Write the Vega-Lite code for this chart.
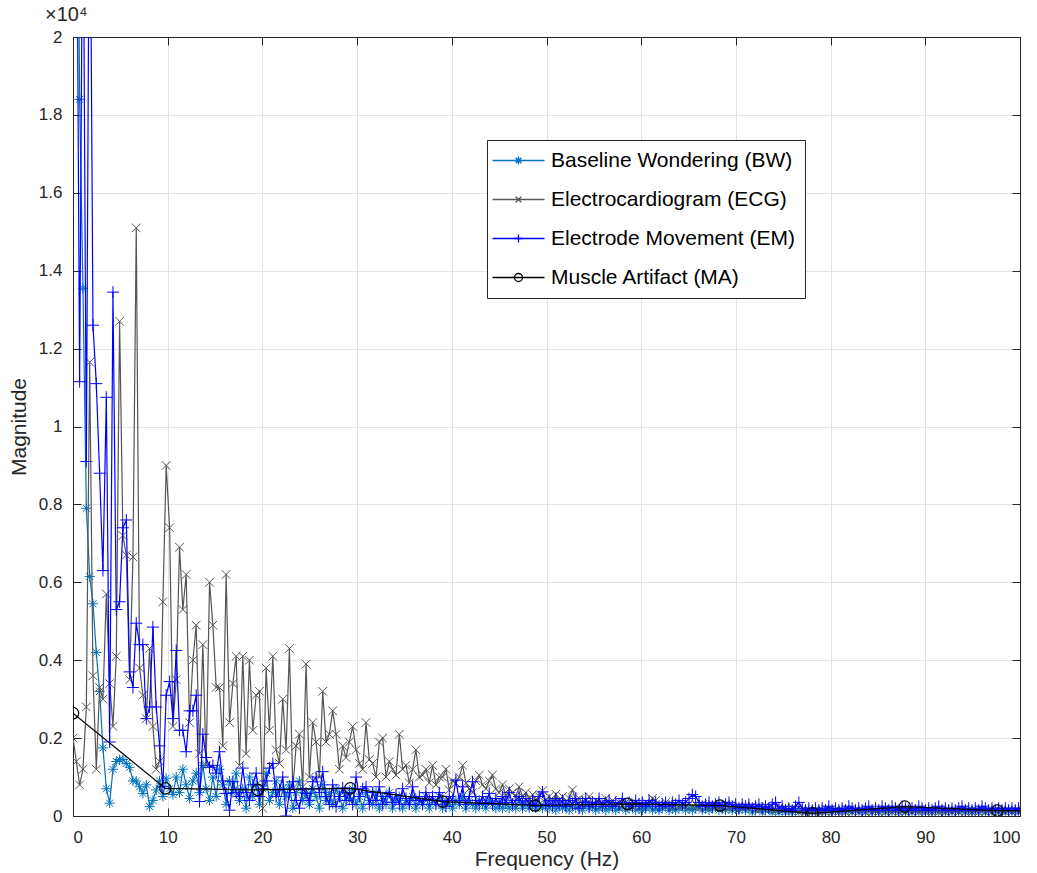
{
"$schema":"https://vega.github.io/schema/vega-lite/v6.json",
"width":947,"height":779,
"autosize":{"type":"none"},
"padding":{"left":73,"top":37,"right":17,"bottom":57},
"background":"white",
"title":{"text":"×10⁴","anchor":"start","frame":"group","dx":-28,"offset":3,"fontSize":20,"fontWeight":"normal","color":"#262626","font":"Liberation Sans"},
"config":{
 "font":"Liberation Sans",
 "view":{"stroke":null},
 "axis":{"domainColor":"#262626","domainWidth":1,"tickColor":"#262626","tickWidth":1,"tickSize":-8,"gridColor":"#e3e3e3","gridWidth":1,"labelFont":"Liberation Sans","labelFontSize":17,"labelColor":"#262626","titleFont":"Liberation Sans","titleFontSize":21,"titleFontWeight":"normal","titleColor":"#262626"}
},
"datasets":{
"w":[
{"f":0,"b":2.4,"e":0.2,"m":2.4},
{"f":0.35,"b":3.0,"e":0.14,"m":2.6},
{"f":0.7,"b":1.84,"e":0.08,"m":1.115},
{"f":1.05,"b":1.355,"e":0.12,"m":2.5},
{"f":1.41,"b":0.79,"e":0.28,"m":0.91},
{"f":1.76,"b":0.615,"e":1.165,"m":2.6},
{"f":2.11,"b":0.545,"e":0.36,"m":1.26},
{"f":2.46,"b":0.42,"e":0.12,"m":1.11},
{"f":2.81,"b":0.32,"e":0.33,"m":0.88},
{"f":3.16,"b":0.175,"e":0.3,"m":0.63},
{"f":3.52,"b":0.07,"e":0.57,"m":1.075},
{"f":3.87,"b":0.033,"e":0.34,"m":0.19},
{"f":4.22,"b":0.12,"e":0.23,"m":1.345},
{"f":4.57,"b":0.14,"e":0.41,"m":0.53},
{"f":4.92,"b":0.145,"e":1.27,"m":0.55},
{"f":5.27,"b":0.145,"e":0.72,"m":0.74},
{"f":5.63,"b":0.135,"e":0.67,"m":0.76},
{"f":5.98,"b":0.125,"e":0.35,"m":0.37},
{"f":6.33,"b":0.09,"e":0.665,"m":0.33},
{"f":6.68,"b":0.09,"e":1.51,"m":0.495},
{"f":7.03,"b":0.075,"e":0.38,"m":0.44},
{"f":7.38,"b":0.058,"e":0.31,"m":0.44},
{"f":7.74,"b":0.08,"e":0.25,"m":0.25},
{"f":8.09,"b":0.024,"e":0.43,"m":0.28},
{"f":8.44,"b":0.04,"e":0.23,"m":0.485},
{"f":8.79,"b":0.067,"e":0.12,"m":0.28},
{"f":9.14,"b":0.09,"e":0.14,"m":0.18},
{"f":9.49,"b":0.05,"e":0.55,"m":0.075},
{"f":9.84,"b":0.097,"e":0.9,"m":0.31},
{"f":10.2,"b":0.07,"e":0.74,"m":0.345},
{"f":10.55,"b":0.055,"e":0.23,"m":0.25},
{"f":10.9,"b":0.1,"e":0.35,"m":0.425},
{"f":11.25,"b":0.06,"e":0.69,"m":0.22},
{"f":11.6,"b":0.12,"e":0.53,"m":0.22},
{"f":11.95,"b":0.08,"e":0.62,"m":0.165},
{"f":12.31,"b":0.045,"e":0.24,"m":0.27},
{"f":12.66,"b":0.09,"e":0.4,"m":0.27},
{"f":13.01,"b":0.11,"e":0.49,"m":0.31},
{"f":13.36,"b":0.06,"e":0.16,"m":0.037},
{"f":13.71,"b":0.13,"e":0.44,"m":0.21},
{"f":14.06,"b":0.07,"e":0.13,"m":0.15},
{"f":14.42,"b":0.04,"e":0.6,"m":0.125},
{"f":14.77,"b":0.1,"e":0.49,"m":0.13},
{"f":15.12,"b":0.05,"e":0.33,"m":0.11},
{"f":15.47,"b":0.12,"e":0.33,"m":0.165},
{"f":15.82,"b":0.08,"e":0.18,"m":0.09},
{"f":16.17,"b":0.03,"e":0.62,"m":0.058},
{"f":16.53,"b":0.09,"e":0.24,"m":0.015},
{"f":16.88,"b":0.06,"e":0.34,"m":0.088},
{"f":17.23,"b":0.11,"e":0.41,"m":0.06},
{"f":17.58,"b":0.04,"e":0.13,"m":0.05},
{"f":17.93,"b":0.07,"e":0.41,"m":0.123},
{"f":18.28,"b":0.02,"e":0.16,"m":0.06},
{"f":18.63,"b":0.1,"e":0.4,"m":0.04},
{"f":18.99,"b":0.05,"e":0.22,"m":0.08},
{"f":19.34,"b":0.08,"e":0.31,"m":0.11},
{"f":19.69,"b":0.03,"e":0.32,"m":0.05},
{"f":20.04,"b":0.07,"e":0.02,"m":0.07},
{"f":20.39,"b":0.11,"e":0.38,"m":0.09},
{"f":20.74,"b":0.04,"e":0.22,"m":0.123},
{"f":21.1,"b":0.06,"e":0.41,"m":0.135},
{"f":21.45,"b":0.09,"e":0.17,"m":0.05},
{"f":21.8,"b":0.03,"e":0.135,"m":0.067},
{"f":22.15,"b":0.07,"e":0.3,"m":0.1},
{"f":22.5,"b":0.05,"e":0.17,"m":0.0},
{"f":22.85,"b":0.08,"e":0.43,"m":0.06},
{"f":23.21,"b":0.02,"e":0.07,"m":0.088},
{"f":23.56,"b":0.06,"e":0.18,"m":0.04},
{"f":23.91,"b":0.09,"e":0.21,"m":0.02},
{"f":24.26,"b":0.04,"e":0.075,"m":0.07},
{"f":24.61,"b":0.06,"e":0.39,"m":0.058},
{"f":24.96,"b":0.03,"e":0.1,"m":0.04},
{"f":25.32,"b":0.07,"e":0.24,"m":0.088},
{"f":25.67,"b":0.05,"e":0.19,"m":0.1},
{"f":26.02,"b":0.02,"e":0.1,"m":0.06},
{"f":26.37,"b":0.08,"e":0.32,"m":0.114},
{"f":26.72,"b":0.04,"e":0.19,"m":0.05},
{"f":27.07,"b":0.06,"e":0.21,"m":0.03},
{"f":27.42,"b":0.03,"e":0.27,"m":0.08},
{"f":27.78,"b":0.07,"e":0.21,"m":0.024},
{"f":28.13,"b":0.05,"e":0.12,"m":0.05},
{"f":28.48,"b":0.02,"e":0.18,"m":0.072},
{"f":28.83,"b":0.06,"e":0.15,"m":0.04},
{"f":29.18,"b":0.04,"e":0.19,"m":0.06},
{"f":29.53,"b":0.07,"e":0.23,"m":0.03},
{"f":29.89,"b":0.03,"e":0.17,"m":0.1},
{"f":30.24,"b":0.05,"e":0.135,"m":0.05},
{"f":30.59,"b":0.02,"e":0.12,"m":0.07},
{"f":30.94,"b":0.06,"e":0.24,"m":0.075},
{"f":31.29,"b":0.04,"e":0.145,"m":0.03},
{"f":31.64,"b":0.03,"e":0.135,"m":0.06},
{"f":32.0,"b":0.06,"e":0.1,"m":0.04},
{"f":32.35,"b":0.02,"e":0.19,"m":0.075},
{"f":32.7,"b":0.05,"e":0.2,"m":0.03},
{"f":33.05,"b":0.03,"e":0.1,"m":0.05},
{"f":33.4,"b":0.06,"e":0.14,"m":0.06},
{"f":33.75,"b":0.02,"e":0.12,"m":0.035},
{"f":34.11,"b":0.04,"e":0.105,"m":0.055},
{"f":34.46,"b":0.05,"e":0.21,"m":0.03},
{"f":34.81,"b":0.02,"e":0.12,"m":0.07},
{"f":35.16,"b":0.04,"e":0.13,"m":0.045},
{"f":35.51,"b":0.03,"e":0.085,"m":0.03},
{"f":35.86,"b":0.05,"e":0.12,"m":0.075},
{"f":36.21,"b":0.02,"e":0.17,"m":0.04},
{"f":36.57,"b":0.04,"e":0.1,"m":0.05},
{"f":36.92,"b":0.03,"e":0.105,"m":0.03},
{"f":37.27,"b":0.05,"e":0.12,"m":0.06},
{"f":37.62,"b":0.02,"e":0.085,"m":0.04},
{"f":37.97,"b":0.04,"e":0.13,"m":0.05},
{"f":38.32,"b":0.03,"e":0.08,"m":0.03},
{"f":38.68,"b":0.05,"e":0.1,"m":0.06},
{"f":39.03,"b":0.02,"e":0.1,"m":0.04},
{"f":39.38,"b":0.04,"e":0.12,"m":0.025},
{"f":39.73,"b":0.03,"e":0.067,"m":0.05},
{"f":40.08,"b":0.02,"e":0.09,"m":0.04},
{"f":40.43,"b":0.04,"e":0.085,"m":0.092},
{"f":40.79,"b":0.03,"e":0.1,"m":0.04},
{"f":41.14,"b":0.05,"e":0.13,"m":0.075},
{"f":41.49,"b":0.02,"e":0.085,"m":0.03},
{"f":41.84,"b":0.04,"e":0.07,"m":0.05},
{"f":42.19,"b":0.03,"e":0.06,"m":0.088},
{"f":42.54,"b":0.02,"e":0.09,"m":0.04},
{"f":42.9,"b":0.04,"e":0.105,"m":0.03},
{"f":43.25,"b":0.03,"e":0.08,"m":0.05},
{"f":43.6,"b":0.02,"e":0.07,"m":0.035},
{"f":43.95,"b":0.04,"e":0.09,"m":0.058},
{"f":44.3,"b":0.03,"e":0.105,"m":0.03},
{"f":44.65,"b":0.02,"e":0.07,"m":0.045},
{"f":45.0,"b":0.03,"e":0.06,"m":0.03},
{"f":45.36,"b":0.02,"e":0.08,"m":0.05},
{"f":45.71,"b":0.04,"e":0.05,"m":0.035},
{"f":46.06,"b":0.02,"e":0.07,"m":0.06},
{"f":46.41,"b":0.03,"e":0.06,"m":0.03},
{"f":46.76,"b":0.02,"e":0.05,"m":0.04},
{"f":47.11,"b":0.04,"e":0.075,"m":0.05},
{"f":47.47,"b":0.02,"e":0.05,"m":0.03},
{"f":47.82,"b":0.03,"e":0.06,"m":0.045},
{"f":48.17,"b":0.02,"e":0.045,"m":0.03},
{"f":48.52,"b":0.03,"e":0.055,"m":0.04},
{"f":48.87,"b":0.02,"e":0.04,"m":0.025},
{"f":49.22,"b":0.03,"e":0.05,"m":0.05},
{"f":49.58,"b":0.02,"e":0.065,"m":0.062},
{"f":49.93,"b":0.03,"e":0.04,"m":0.03},
{"f":50.28,"b":0.02,"e":0.05,"m":0.04},
{"f":50.63,"b":0.03,"e":0.035,"m":0.025},
{"f":50.98,"b":0.015,"e":0.056,"m":0.045},
{"f":51.33,"b":0.03,"e":0.04,"m":0.03},
{"f":51.69,"b":0.02,"e":0.05,"m":0.04},
{"f":52.04,"b":0.025,"e":0.035,"m":0.025},
{"f":52.39,"b":0.015,"e":0.045,"m":0.04},
{"f":52.74,"b":0.03,"e":0.067,"m":0.03},
{"f":53.09,"b":0.02,"e":0.04,"m":0.045},
{"f":53.44,"b":0.025,"e":0.045,"m":0.02},
{"f":53.79,"b":0.015,"e":0.03,"m":0.035},
{"f":54.15,"b":0.03,"e":0.04,"m":0.045},
{"f":54.5,"b":0.02,"e":0.05,"m":0.025},
{"f":54.85,"b":0.025,"e":0.03,"m":0.035},
{"f":55.2,"b":0.015,"e":0.04,"m":0.03},
{"f":55.55,"b":0.02,"e":0.035,"m":0.045},
{"f":55.9,"b":0.025,"e":0.03,"m":0.025},
{"f":56.26,"b":0.015,"e":0.045,"m":0.035},
{"f":56.61,"b":0.02,"e":0.03,"m":0.04},
{"f":56.96,"b":0.025,"e":0.04,"m":0.025},
{"f":57.31,"b":0.015,"e":0.03,"m":0.035},
{"f":57.66,"b":0.02,"e":0.035,"m":0.03},
{"f":58.01,"b":0.025,"e":0.025,"m":0.045},
{"f":58.37,"b":0.015,"e":0.035,"m":0.03},
{"f":58.72,"b":0.02,"e":0.03,"m":0.035},
{"f":59.07,"b":0.025,"e":0.025,"m":0.025},
{"f":59.42,"b":0.015,"e":0.035,"m":0.04},
{"f":59.77,"b":0.02,"e":0.03,"m":0.03},
{"f":60.12,"b":0.015,"e":0.025,"m":0.035},
{"f":60.48,"b":0.02,"e":0.035,"m":0.025},
{"f":60.83,"b":0.025,"e":0.03,"m":0.04},
{"f":61.18,"b":0.015,"e":0.045,"m":0.03},
{"f":61.53,"b":0.02,"e":0.04,"m":0.035},
{"f":61.88,"b":0.015,"e":0.03,"m":0.025},
{"f":62.23,"b":0.02,"e":0.025,"m":0.03},
{"f":62.58,"b":0.025,"e":0.035,"m":0.035},
{"f":62.94,"b":0.015,"e":0.03,"m":0.025},
{"f":63.29,"b":0.02,"e":0.025,"m":0.035},
{"f":63.64,"b":0.015,"e":0.03,"m":0.03},
{"f":63.99,"b":0.02,"e":0.025,"m":0.04},
{"f":64.34,"b":0.025,"e":0.03,"m":0.03},
{"f":64.69,"b":0.015,"e":0.025,"m":0.035},
{"f":65.05,"b":0.02,"e":0.03,"m":0.045},
{"f":65.4,"b":0.015,"e":0.025,"m":0.055},
{"f":65.75,"b":0.02,"e":0.03,"m":0.05},
{"f":66.1,"b":0.025,"e":0.02,"m":0.035},
{"f":66.45,"b":0.015,"e":0.03,"m":0.025},
{"f":66.8,"b":0.02,"e":0.025,"m":0.03},
{"f":67.16,"b":0.015,"e":0.02,"m":0.035},
{"f":67.51,"b":0.02,"e":0.03,"m":0.025},
{"f":67.86,"b":0.025,"e":0.025,"m":0.03},
{"f":68.21,"b":0.015,"e":0.02,"m":0.035},
{"f":68.56,"b":0.02,"e":0.025,"m":0.025},
{"f":68.91,"b":0.015,"e":0.03,"m":0.03},
{"f":69.27,"b":0.02,"e":0.02,"m":0.035},
{"f":69.62,"b":0.015,"e":0.025,"m":0.025},
{"f":69.97,"b":0.02,"e":0.02,"m":0.03},
{"f":70.32,"b":0.015,"e":0.025,"m":0.02},
{"f":70.67,"b":0.02,"e":0.02,"m":0.03},
{"f":71.02,"b":0.015,"e":0.025,"m":0.025},
{"f":71.37,"b":0.02,"e":0.02,"m":0.03},
{"f":71.73,"b":0.01,"e":0.025,"m":0.02},
{"f":72.08,"b":0.015,"e":0.02,"m":0.025},
{"f":72.43,"b":0.02,"e":0.015,"m":0.03},
{"f":72.78,"b":0.01,"e":0.02,"m":0.02},
{"f":73.13,"b":0.015,"e":0.025,"m":0.025},
{"f":73.48,"b":0.02,"e":0.015,"m":0.02},
{"f":73.84,"b":0.01,"e":0.02,"m":0.03},
{"f":74.19,"b":0.015,"e":0.015,"m":0.035},
{"f":74.54,"b":0.01,"e":0.02,"m":0.02},
{"f":74.89,"b":0.015,"e":0.015,"m":0.025},
{"f":75.24,"b":0.01,"e":0.02,"m":0.015},
{"f":75.59,"b":0.015,"e":0.015,"m":0.02},
{"f":75.95,"b":0.01,"e":0.02,"m":0.015},
{"f":76.3,"b":0.015,"e":0.015,"m":0.025},
{"f":76.65,"b":0.01,"e":0.01,"m":0.035},
{"f":77.0,"b":0.015,"e":0.015,"m":0.02},
{"f":77.35,"b":0.01,"e":0.01,"m":0.015},
{"f":77.7,"b":0.015,"e":0.015,"m":0.02},
{"f":78.06,"b":0.01,"e":0.01,"m":0.015},
{"f":78.41,"b":0.015,"e":0.015,"m":0.02},
{"f":78.76,"b":0.01,"e":0.01,"m":0.015},
{"f":79.11,"b":0.015,"e":0.015,"m":0.02},
{"f":79.46,"b":0.01,"e":0.01,"m":0.015},
{"f":79.81,"b":0.015,"e":0.015,"m":0.025},
{"f":80.16,"b":0.01,"e":0.01,"m":0.015},
{"f":80.52,"b":0.015,"e":0.015,"m":0.02},
{"f":80.87,"b":0.01,"e":0.01,"m":0.015},
{"f":81.22,"b":0.015,"e":0.015,"m":0.02},
{"f":81.57,"b":0.01,"e":0.01,"m":0.015},
{"f":81.92,"b":0.015,"e":0.015,"m":0.025},
{"f":82.27,"b":0.01,"e":0.01,"m":0.02},
{"f":82.63,"b":0.015,"e":0.015,"m":0.015},
{"f":82.98,"b":0.01,"e":0.01,"m":0.02},
{"f":83.33,"b":0.015,"e":0.015,"m":0.015},
{"f":83.68,"b":0.01,"e":0.01,"m":0.02},
{"f":84.03,"b":0.015,"e":0.015,"m":0.025},
{"f":84.38,"b":0.01,"e":0.01,"m":0.015},
{"f":84.74,"b":0.015,"e":0.015,"m":0.02},
{"f":85.09,"b":0.01,"e":0.01,"m":0.015},
{"f":85.44,"b":0.015,"e":0.015,"m":0.025},
{"f":85.79,"b":0.01,"e":0.01,"m":0.02},
{"f":86.14,"b":0.015,"e":0.015,"m":0.015},
{"f":86.49,"b":0.01,"e":0.01,"m":0.025},
{"f":86.85,"b":0.015,"e":0.015,"m":0.02},
{"f":87.2,"b":0.01,"e":0.01,"m":0.015},
{"f":87.55,"b":0.015,"e":0.015,"m":0.025},
{"f":87.9,"b":0.01,"e":0.01,"m":0.02},
{"f":88.25,"b":0.015,"e":0.015,"m":0.015},
{"f":88.6,"b":0.01,"e":0.01,"m":0.02},
{"f":88.95,"b":0.015,"e":0.015,"m":0.015},
{"f":89.31,"b":0.01,"e":0.01,"m":0.025},
{"f":89.66,"b":0.015,"e":0.015,"m":0.02},
{"f":90.01,"b":0.01,"e":0.01,"m":0.015},
{"f":90.36,"b":0.015,"e":0.015,"m":0.02},
{"f":90.71,"b":0.01,"e":0.01,"m":0.015},
{"f":91.06,"b":0.015,"e":0.015,"m":0.02},
{"f":91.42,"b":0.01,"e":0.01,"m":0.025},
{"f":91.77,"b":0.015,"e":0.015,"m":0.015},
{"f":92.12,"b":0.01,"e":0.01,"m":0.02},
{"f":92.47,"b":0.015,"e":0.015,"m":0.015},
{"f":92.82,"b":0.01,"e":0.01,"m":0.02},
{"f":93.17,"b":0.015,"e":0.015,"m":0.015},
{"f":93.53,"b":0.01,"e":0.01,"m":0.02},
{"f":93.88,"b":0.015,"e":0.015,"m":0.025},
{"f":94.23,"b":0.01,"e":0.01,"m":0.015},
{"f":94.58,"b":0.015,"e":0.015,"m":0.02},
{"f":94.93,"b":0.01,"e":0.01,"m":0.015},
{"f":95.28,"b":0.015,"e":0.015,"m":0.02},
{"f":95.64,"b":0.01,"e":0.01,"m":0.015},
{"f":95.99,"b":0.015,"e":0.015,"m":0.025},
{"f":96.34,"b":0.01,"e":0.01,"m":0.02},
{"f":96.69,"b":0.015,"e":0.015,"m":0.015},
{"f":97.04,"b":0.01,"e":0.01,"m":0.02},
{"f":97.39,"b":0.015,"e":0.015,"m":0.015},
{"f":97.74,"b":0.01,"e":0.01,"m":0.02},
{"f":98.1,"b":0.015,"e":0.015,"m":0.015},
{"f":98.45,"b":0.01,"e":0.01,"m":0.02},
{"f":98.8,"b":0.015,"e":0.015,"m":0.015},
{"f":99.15,"b":0.01,"e":0.01,"m":0.02},
{"f":99.5,"b":0.015,"e":0.015,"m":0.015},
{"f":99.85,"b":0.01,"e":0.01,"m":0.02},
{"f":100.21,"b":0.015,"e":0.015,"m":0.015}
],
"ma":[
{"f":0,"a":0.264},{"f":9.76,"a":0.071},{"f":19.52,"a":0.067},{"f":29.28,"a":0.071},{"f":39.04,"a":0.037},{"f":48.8,"a":0.027},{"f":58.56,"a":0.031},{"f":68.32,"a":0.027},{"f":78.08,"a":0.007},{"f":87.84,"a":0.024},{"f":97.6,"a":0.014},{"f":107.36,"a":0.012}
]
},
"layer":[
{
 "encoding":{"x":{"field":"f","type":"quantitative","title":"Frequency (Hz)","scale":{"domain":[0,100],"nice":false,"zero":false},"axis":{"values":[0,10,20,30,40,50,60,70,80,90,100],"grid":true,"labelPadding":21,"titlePadding":3}}},
 "layer":[
  {"data":{"name":"w"},"mark":{"type":"line","strokeWidth":1.2,"clip":true},
   "encoding":{"y":{"field":"b","type":"quantitative","title":"Magnitude","scale":{"domain":[0,2],"nice":false},"axis":{"values":[0,0.2,0.4,0.6,0.8,1,1.2,1.4,1.6,1.8,2],"format":"~g","grid":true,"labelPadding":19,"titlePadding":9}},
    "stroke":{"datum":"B","type":"nominal","scale":{"domain":["B","E","M","A"],"range":["#0072BD","#555555","#0000FF","#000000"]},
     "legend":{"orient":"none","legendX":414,"legendY":103,"title":null,"labelFontSize":21,"labelFont":"Liberation Sans","labelColor":"#000000","labelLimit":400,"symbolType":"M-6.5,0L6.5,0","symbolSize":64,"symbolStrokeWidth":1.3,"strokeColor":"#262626","fillColor":"white","padding":10,"rowPadding":17,"symbolOffset":11,"labelOffset":22,
      "labelExpr":"datum.value==='B'?'Baseline Wondering (BW)':datum.value==='E'?'Electrocardiogram (ECG)':datum.value==='M'?'Electrode Movement (EM)':'Muscle Artifact (MA)'"}}}},
  {"data":{"name":"w"},"mark":{"type":"point","filled":false,"strokeWidth":1,"size":100,"clip":true,"opacity":1},
   "encoding":{"y":{"field":"b","type":"quantitative","title":"Magnitude"},
    "color":{"datum":"b","type":"nominal","scale":{"domain":["b","e","m","a"],"range":["#0072BD","#555555","#0000FF","#000000"]},
     "legend":{"orient":"none","legendX":414,"legendY":103,"title":null,"labelFontSize":21,"labelFont":"Liberation Sans","labelColor":"rgba(0,0,0,0)","labelLimit":400,"symbolSize":64,"symbolStrokeWidth":1.3,"strokeColor":"transparent","fillColor":"transparent","padding":10,"rowPadding":17,"symbolOffset":11,"labelOffset":22,
      "labelExpr":"datum.value==='b'?'Baseline Wondering (BW)':datum.value==='e'?'Electrocardiogram (ECG)':datum.value==='m'?'Electrode Movement (EM)':'Muscle Artifact (MA)'"}},
    "shape":{"datum":"b","type":"nominal","legend":null,"scale":{"domain":["b","e","m","a"],"range":["M-1,0L1,0M0,-1L0,1M-0.7,-0.7L0.7,0.7M-0.7,0.7L0.7,-0.7","M-0.7,-0.7L0.7,0.7M-0.7,0.7L0.7,-0.7","M-1,0L1,0M0,-1L0,1","circle"]}}}},
  {"data":{"name":"w"},"mark":{"type":"line","strokeWidth":1.2,"clip":true},
   "encoding":{"y":{"field":"e","type":"quantitative","title":"Magnitude"},"stroke":{"datum":"E","type":"nominal"}}},
  {"data":{"name":"w"},"mark":{"type":"point","filled":false,"strokeWidth":1,"size":150,"clip":true,"opacity":1},
   "encoding":{"y":{"field":"e","type":"quantitative","title":"Magnitude"},"color":{"datum":"e","type":"nominal"},"shape":{"datum":"e","type":"nominal","legend":null}}},
  {"data":{"name":"w"},"mark":{"type":"line","strokeWidth":1.2,"clip":true},
   "encoding":{"y":{"field":"m","type":"quantitative","title":"Magnitude"},"stroke":{"datum":"M","type":"nominal"}}},
  {"data":{"name":"w"},"mark":{"type":"point","filled":false,"strokeWidth":1,"size":144,"clip":true,"opacity":1},
   "encoding":{"y":{"field":"m","type":"quantitative","title":"Magnitude"},"color":{"datum":"m","type":"nominal"},"shape":{"datum":"m","type":"nominal","legend":null}}},
  {"data":{"name":"ma"},"mark":{"type":"line","strokeWidth":1.2,"clip":true},
   "encoding":{"y":{"field":"a","type":"quantitative","title":"Magnitude"},"stroke":{"datum":"A","type":"nominal"}}},
  {"data":{"name":"ma"},"mark":{"type":"point","filled":false,"strokeWidth":1.2,"size":130,"clip":true,"opacity":1},
   "encoding":{"y":{"field":"a","type":"quantitative","title":"Magnitude"},"color":{"datum":"a","type":"nominal"},"shape":{"datum":"a","type":"nominal","legend":null}}}
 ]
},
{
 "data":{"name":"ma"},
 "mark":{"type":"point","opacity":0},
 "encoding":{
  "x":{"field":"f","type":"quantitative","axis":{"orient":"top","labels":false,"grid":false,"title":null,"values":[0,10,20,30,40,50,60,70,80,90,100]}},
  "y":{"field":"a","type":"quantitative","axis":{"orient":"right","labels":false,"grid":false,"title":null,"values":[0,0.2,0.4,0.6,0.8,1,1.2,1.4,1.6,1.8,2]}}
 }
}
],
"resolve":{"axis":{"x":"independent","y":"independent"}}
}
